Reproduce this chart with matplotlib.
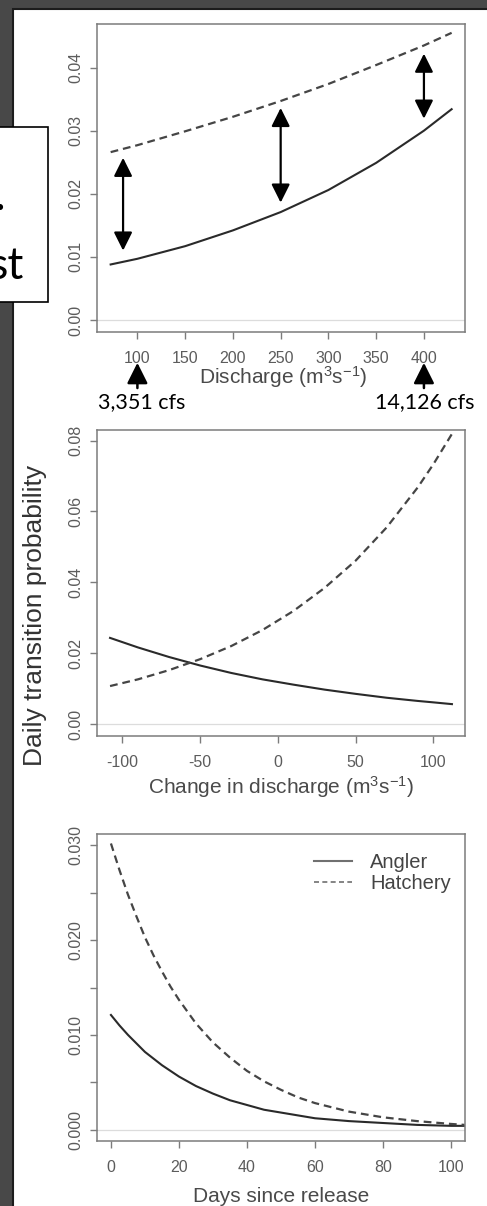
import matplotlib
matplotlib.use("Agg")
import matplotlib.pyplot as plt
from matplotlib.patches import Rectangle
from matplotlib.lines import Line2D


# ---------------- DATA ---------------- #

discharge = [72, 100, 150, 200, 250, 300, 350, 400, 429]
discharge_angler = [0.0088, 0.0097, 0.0117, 0.0142, 0.0171, 0.0206, 0.0249, 0.0300, 0.0334]
discharge_hatchery = [0.0266, 0.0277, 0.0299, 0.0322, 0.0347, 0.0374, 0.0404, 0.0435, 0.0455]

# double arrows marking the gap between the two groups
gap_x = [85, 250, 400]
gap_low = [0.0110, 0.0186, 0.0319]
gap_high = [0.0257, 0.0336, 0.0422]

# flow conversions shown under the discharge axis
flow_ticks = [100, 400]
flow_labels = ["3,351 cfs", "14,126 cfs"]

change = [-108, -90, -70, -50, -30, -10, 10, 30, 50, 70, 90, 100, 112]
change_angler = [0.0243, 0.0216, 0.0189, 0.0165, 0.0144, 0.0126,
                 0.0111, 0.0097, 0.0085, 0.0074, 0.0065, 0.0061, 0.0056]
change_hatchery = [0.0107, 0.0126, 0.0152, 0.0183, 0.0220, 0.0265,
                   0.0319, 0.0384, 0.0461, 0.0555, 0.0668, 0.0733, 0.0819]

days = [0, 2.5, 5, 7.5, 10, 12.5, 15, 17.5, 20, 25, 30, 35, 40, 45, 50, 55,
        60, 70, 80, 90, 100, 104]
days_angler = [0.0121, 0.0110, 0.0100, 0.0091, 0.0082, 0.0075, 0.0068, 0.0062,
               0.0056, 0.0046, 0.0038, 0.0031, 0.0026, 0.0021, 0.0018, 0.0015,
               0.0012, 0.0009, 0.0007, 0.0005, 0.0004, 0.0004]
days_hatchery = [0.0302, 0.0274, 0.0248, 0.0225, 0.0203, 0.0184, 0.0167, 0.0151,
                 0.0137, 0.0112, 0.0092, 0.0076, 0.0062, 0.0051, 0.0042, 0.0034,
                 0.0028, 0.0019, 0.0013, 0.0009, 0.0006, 0.0005]

group_names = ["Angler", "Hatchery"]


# ---------------- LAYOUT HELPERS ---------------- #

W, H = 487, 1206

plt.rcParams["font.family"] = ["Liberation Sans", "DejaVu Sans"]
plt.rcParams["mathtext.default"] = "regular"
plt.rcParams["axes.unicode_minus"] = False


def fx(px):
    return px / W


def fy(py):
    return 1 - py / H


def axes_box(left, top, right, bottom):
    return [fx(left), fy(bottom), (right - left) / W, (bottom - top) / H]


SOLID = "#2a2a2a"
DASHED = "#454545"
DASH = (0, (3.5, 2.2))
FRAME = "#7c7c7c"
TICKTXT = "#5c5c5c"
LABEL = "#4a4a4a"


def style_axes(ax, xticks, yticks, ylabels, xlim, ylim):

    ax.set_xlim(*xlim)
    ax.set_ylim(*ylim)

    ax.axhline(0, color="#dcdcdc", linewidth=0.9, zorder=0)

    ax.set_xticks(xticks)
    ax.set_yticks(yticks)
    ax.set_yticklabels(ylabels)

    ax.tick_params(
        axis="both",
        direction="out",
        length=5,
        width=1,
        color=FRAME,
        labelcolor=TICKTXT,
        labelsize=11.5
    )
    ax.tick_params(axis="x", pad=8.5)
    ax.tick_params(axis="y", pad=5, labelrotation=90)

    for lbl in ax.get_yticklabels():
        lbl.set_va("center")

    for spine in ax.spines.values():
        spine.set_color(FRAME)
        spine.set_linewidth(1.1)


# ---------------- FIGURE ---------------- #

fig = plt.figure(figsize=(W / 100, H / 100), dpi=100)
fig.patch.set_facecolor("#484848")

# white slide panel behind the plots
fig.patches.append(
    Rectangle(
        (fx(13), fy(1220)), (W + 20) / W, (1220 - 9) / H,
        transform=fig.transFigure,
        facecolor="white",
        edgecolor="#1c1c1c",
        linewidth=1.5,
        zorder=-5
    )
)


# ---------------- DISCHARGE PANEL ---------------- #

ax1 = fig.add_axes(axes_box(97, 24, 465, 332))
ax1.set_zorder(2)

ax1.plot(discharge, discharge_angler, color=SOLID, linewidth=1.5)
ax1.plot(discharge, discharge_hatchery, color=DASHED, linewidth=1.6, linestyle=DASH)

style_axes(
    ax1,
    [100, 150, 200, 250, 300, 350, 400],
    [0.00, 0.01, 0.02, 0.03, 0.04],
    ["0.00", "0.01", "0.02", "0.03", "0.04"],
    (57.7, 443),
    (-0.0019, 0.0469)
)

for x, lo, hi in zip(gap_x, gap_low, gap_high):
    ax1.annotate(
        "",
        xy=(x, hi),
        xytext=(x, lo),
        arrowprops=dict(
            arrowstyle="<|-|>,head_length=0.8,head_width=0.4",
            mutation_scale=14,
            color="black",
            linewidth=1.6,
            shrinkA=0,
            shrinkB=0
        )
    )

for x in flow_ticks:
    ax1.annotate(
        "",
        xy=(x, -0.100),
        xytext=(x, -0.182),
        xycoords=("data", "axes fraction"),
        textcoords=("data", "axes fraction"),
        arrowprops=dict(
            arrowstyle="-|>,head_length=0.9,head_width=0.45",
            mutation_scale=14,
            color="black",
            linewidth=1.8,
            shrinkA=0,
            shrinkB=0
        ),
        annotation_clip=False
    )

ax1.text(104, -0.226, flow_labels[0], transform=ax1.get_xaxis_transform(),
         ha="center", va="center", fontsize=15.5, family="Lato", color="black")
ax1.text(401, -0.226, flow_labels[1], transform=ax1.get_xaxis_transform(),
         ha="center", va="center", fontsize=15.5, family="Lato", color="black")

fig.text(fx(283), fy(377), "Discharge (m$^3$s$^{-1}$)",
         ha="center", va="center", fontsize=15, color=LABEL)


# ---------------- CHANGE IN DISCHARGE PANEL ---------------- #

ax2 = fig.add_axes(axes_box(97, 430, 465, 736))
ax2.set_zorder(2)

ax2.plot(change, change_angler, color=SOLID, linewidth=1.5)
ax2.plot(change, change_hatchery, color=DASHED, linewidth=1.6, linestyle=DASH)

style_axes(
    ax2,
    [-100, -50, 0, 50, 100],
    [0.00, 0.02, 0.04, 0.06, 0.08],
    ["0.00", "0.02", "0.04", "0.06", "0.08"],
    (-116.4, 120.4),
    (-0.0034, 0.0830)
)

fig.text(fx(281), fy(787), "Change in discharge (m$^3$s$^{-1}$)",
         ha="center", va="center", fontsize=15, color=LABEL)

fig.text(fx(35), fy(615), "Daily transition probability",
         rotation=90, ha="center", va="center", fontsize=19, color="#333333")


# ---------------- DAYS SINCE RELEASE PANEL ---------------- #

ax3 = fig.add_axes(axes_box(97, 834, 465, 1141))
ax3.set_zorder(2)

ax3.plot(days, days_angler, color=SOLID, linewidth=1.5)
ax3.plot(days, days_hatchery, color=DASHED, linewidth=1.6, linestyle=DASH)

style_axes(
    ax3,
    [0, 20, 40, 60, 80, 100],
    [0.000, 0.005, 0.010, 0.015, 0.020, 0.025, 0.030],
    ["0.000", "", "0.010", "", "0.020", "", "0.030"],
    (-4.1, 104.1),
    (-0.0012, 0.0312)
)

legend_handles = [
    Line2D([], [], color="#707070", linewidth=1.5),
    Line2D([], [], color="#707070", linewidth=1.2, linestyle=(0, (3, 2)))
]

leg = ax3.legend(
    legend_handles,
    group_names,
    loc="upper right",
    bbox_to_anchor=(1.0, 0.985),
    frameon=False,
    fontsize=14.5,
    handlelength=1.9,
    handletextpad=0.9,
    labelspacing=0.12,
    borderaxespad=0.3
)
for text in leg.get_texts():
    text.set_color("#444444")

fig.text(fx(281), fy(1196), "Days since release",
         ha="center", va="center", fontsize=15, color=LABEL)


# ---------------- TEXT BOX OVERLAY ---------------- #

fig.patches.append(
    Rectangle(
        (fx(-10), fy(302)), 58 / W, (302 - 127) / H,
        transform=fig.transFigure,
        facecolor="white",
        edgecolor="black",
        linewidth=1.2,
        zorder=5
    )
)

fig.text(fx(5), fy(210), ".", ha="right", va="baseline",
         fontsize=32, family="Lato", color="black", zorder=6)
fig.text(fx(24), fy(279), "st", ha="right", va="baseline",
         fontsize=32, family="Lato", color="black", zorder=6)

fig.savefig("out.png", dpi=100)
